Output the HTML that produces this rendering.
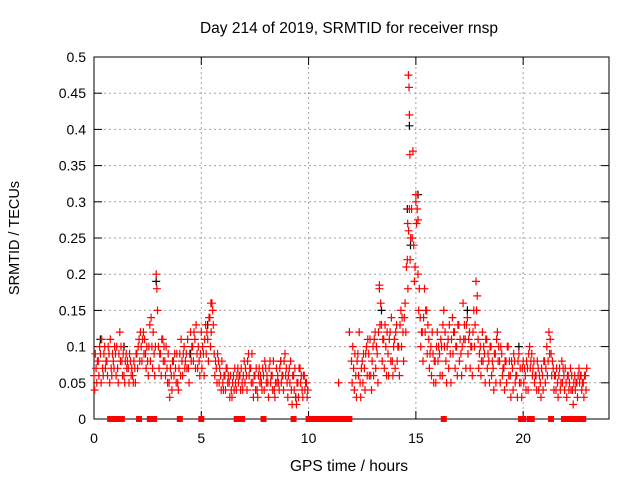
<!DOCTYPE html>
<html><head><meta charset="utf-8"><style>
body{margin:0;background:#fff;width:640px;height:480px;overflow:hidden}
svg{display:block;font-family:"Liberation Sans",sans-serif}
</style></head><body>
<svg id="c" width="640" height="480">
<g id="grid"></g>
<g id="axes"></g>
<g id="marks"></g>
<text x="349" y="33" text-anchor="middle" font-size="15.5">Day 214 of 2019, SRMTID for receiver rnsp</text>
<text x="349" y="471" text-anchor="middle" font-size="15.5">GPS time / hours</text>
<text transform="translate(19,238) rotate(-90)" text-anchor="middle" font-size="14.5">SRMTID / TECUs</text>
</svg>
<script>
const xTicks=[0,5,10,15,20];
const yTicks=[0,0.05,0.1,0.15,0.2,0.25,0.3,0.35,0.4,0.45,0.5];
const yTickLabels=["0","0.05","0.1","0.15","0.2","0.25","0.3","0.35","0.4","0.45","0.5"];
const morningStart=0, afternoonStart=12;
const morningA=[.06,.07,.08,.09,.07,.10,.08,.09,.07,.08,.09,.07,.12,.08,.06,.09,.07,.08,.06,.07,.09,.11,.10,.12,.09,.08,.13,.10,.09,.20,.10,.09,.11,.08,.07,.05,.06,.08,.07,.05,.09,.08,.10,.09,.07,.12,.10,.11,.09,.08,.12,.09,.13,.11,.14,.16,.09,.07,.08,.06,.05,.06,.07,.05,.04,.06,.05,.07,.06,.05,.08,.06,.09,.07,.05,.06,.04,.07,.05,.06,.07,.05,.08,.06,.04,.07,.05,.08,.06,.09,.05,.07,.04,.06,.03,.05,.07,.04,.06,.05];
const morningB=[.04,.05,.06,.05,.06,.07,.06,.05,.06,.07,.06,.05,.08,.06,.05,.07,.05,.06,.05,.05,.07,.08,.08,.09,.07,.06,.08,.07,.06,.18,.07,.06,.08,.06,.05,.03,.04,.06,.05,.04,.06,.06,.07,.07,.05,.08,.08,.07,.07,.06,.07,.06,.09,.08,.10,.15,.06,.05,.05,.04,.04,.04,.05,.03,.03,.04,.04,.05,.04,.04,.05,.04,.06,.05,.03,.04,.03,.05,.04,.04,.05,.03,.05,.04,.03,.05,.04,.05,.04,.06,.03,.05,.02,.04,.02,.03,.05,.03,.04,.03];
const morningC=[.09,.08,.10,.11,.09,.08,.10,.11,.09,.10,.10,.09,.10,.09,.08,.08,.09,.07,.08,.09,.10,.12,.11,.11,.10,.10,.14,.12,.10,.15,.09,.11,.10,.10,.09,.07,.08,.09,.09,.07,.11,.09,.08,.11,.09,.10,.12,.13,.10,.09,.10,.11,.12,.14,.12,.13,.08,.09,.07,.08,.06,.07,.06,.06,.05,.07,.06,.06,.07,.06,.07,.08,.07,.09,.06,.07,.06,.06,.07,.08,.06,.07,.06,.08,.05,.06,.07,.06,.08,.07,.06,.08,.06,.07,.05,.07,.06,.06,.05,.04];
const afternoonA=[.08,.07,.06,.09,.05,.08,.07,.10,.09,.06,.10,.12,.09,.18,.13,.11,.10,.09,.12,.08,.11,.13,.10,.15,.12,.16,.22,.29,.29,.24,.31,.20,.14,.12,.18,.15,.11,.10,.09,.08,.12,.09,.10,.15,.08,.11,.09,.14,.12,.10,.13,.09,.16,.11,.14,.12,.10,.15,.19,.11,.10,.12,.09,.11,.08,.10,.07,.09,.12,.08,.09,.07,.08,.10,.06,.07,.08,.06,.09,.05,.08,.06,.07,.10,.09,.08,.06,.07,.05,.06,.08,.10,.12,.09,.07,.06,.05,.07,.08,.06,.05,.06,.07,.04,.06,.05,.07,.06,.05,.06];
const afternoonB=[.05,.04,.03,.06,.03,.05,.04,.06,.06,.04,.06,.07,.05,.13,.08,.07,.06,.06,.08,.06,.07,.08,.06,.10,.08,.12,.18,.22,.25,.19,.27,.15,.10,.08,.12,.09,.07,.06,.05,.05,.08,.06,.06,.10,.05,.07,.05,.09,.07,.06,.08,.06,.11,.07,.09,.07,.06,.10,.15,.07,.06,.08,.05,.07,.05,.06,.04,.05,.08,.05,.06,.04,.05,.06,.03,.04,.05,.03,.05,.03,.05,.04,.04,.07,.06,.05,.04,.04,.03,.04,.05,.06,.09,.06,.04,.04,.03,.04,.05,.04,.03,.04,.04,.02,.04,.03,.05,.04,.03,.04];
const afternoonC=[.10,.09,.08,.12,.07,.09,.09,.11,.11,.08,.11,.10,.12,.16,.11,.13,.12,.11,.14,.10,.12,.10,.13,.14,.14,.21,.26,.25,.37,.21,.29,.18,.12,.14,.15,.13,.09,.12,.08,.10,.10,.11,.13,.12,.10,.13,.11,.12,.10,.13,.11,.10,.13,.13,.11,.10,.12,.13,.17,.09,.08,.10,.11,.09,.10,.08,.09,.11,.10,.10,.07,.08,.10,.08,.08,.09,.06,.08,.07,.07,.07,.08,.09,.08,.07,.06,.08,.06,.07,.08,.07,.08,.11,.08,.06,.07,.06,.05,.07,.07,.06,.05,.06,.05,.05,.06,.06,.05,.06,.07];
const extraTimes=[11.4,11.9,14.65,14.68,14.7,14.72,14.62,15.0,15.1,13.3,17.8,5.45];
const extraVals=[.05,.12,.475,.458,.42,.365,.27,.30,.275,.185,.19,.16];
const blackTimes=[0.3,1.4,2.9,4.5,5.3,8.7,13.4,14.6,14.7,14.75,15.1,17.4,19.8,9.4];
const blackVals=[.11,.10,.19,.09,.13,.08,.15,.29,.405,.24,.31,.15,.10,.03];
const zeroTimes=[0.75,0.85,1.0,1.1,1.2,1.3,2.1,2.6,2.7,2.8,4.0,5.0,6.65,6.9,7.9,9.3,10.0,10.1,10.2,10.3,10.4,10.5,10.6,10.7,10.8,10.9,11.0,11.1,11.2,11.3,11.4,11.5,11.6,11.7,11.8,11.9,16.3,19.9,20.0,20.3,20.4,21.3,21.9,22.0,22.2,22.4,22.6,22.8];

const L=94,R=609,T=57,B=419,NS="http://www.w3.org/2000/svg";
const xs=h=>L+(h/24)*(R-L), ys=v=>B-(v/0.5)*(B-T);
function mk(tag,attrs,parent){const e=document.createElementNS(NS,tag);for(const k in attrs)e.setAttribute(k,attrs[k]);document.getElementById(parent).appendChild(e);return e;}
yTicks.forEach((v,i)=>{const y=ys(v);
 if(i>0&&i<yTicks.length-1){const g=mk('line',{x1:L,x2:R,y1:y,y2:y,stroke:'#a0a0a0','stroke-dasharray':'2,3'},'grid');}
 const t=mk('line',{x1:L,x2:L+8,y1:y,y2:y,stroke:'#000'},'axes');
 const t2=mk('line',{x1:R-8,x2:R,y1:y,y2:y,stroke:'#000'},'axes');
 const l=mk('text',{x:L-8,y:y+5,'text-anchor':'end','font-size':14},'axes');l.textContent=yTickLabels[i];});
xTicks.forEach(h=>{const x=xs(h);
 if(h>0){const g=mk('line',{x1:x,x2:x,y1:T,y2:B,stroke:'#a0a0a0','stroke-dasharray':'2,3'},'grid');}
 const t=mk('line',{x1:x,x2:x,y1:B,y2:B-8,stroke:'#000'},'axes');
 const t2=mk('line',{x1:x,x2:x,y1:T,y2:T+8,stroke:'#000'},'axes');
 const l=mk('text',{x:x,y:B+24,'text-anchor':'middle','font-size':14},'axes');l.textContent=String(h);});
const fr=mk('rect',{x:L,y:T,width:R-L,height:B-T,fill:'none',stroke:'#000'},'axes');


let d={red:'',black:''};
function plus(h,v,c){const x=xs(h),y=ys(v);d[c]+=`M${(x-4).toFixed(1)} ${y.toFixed(1)}h8M${x.toFixed(1)} ${(y-4).toFixed(1)}v8`;}
blackTimes.forEach((h,i)=>plus(h,blackVals[i],'black'));
[[morningStart,morningA,0],[morningStart,morningB,0.03],[morningStart,morningC,0.06],[afternoonStart,afternoonA,0],[afternoonStart,afternoonB,0.03],[afternoonStart,afternoonC,0.06]].forEach(([s,arr,o])=>arr.forEach((v,i)=>plus(s+i*0.1+o,v,'red')));
extraTimes.forEach((h,i)=>plus(h,extraVals[i],'red'));
const pb=mk('path',{d:d.black,stroke:'#000',fill:'none','stroke-width':1.2},'marks');


const pr=mk('path',{d:d.red,stroke:'#f00',fill:'none','stroke-width':1.2},'marks');


zeroTimes.forEach(h=>{const r=mk('rect',{x:xs(h)-3,y:B-3,width:6,height:6,fill:'#f00'},'marks');
 
 });
</script>
</body></html>
